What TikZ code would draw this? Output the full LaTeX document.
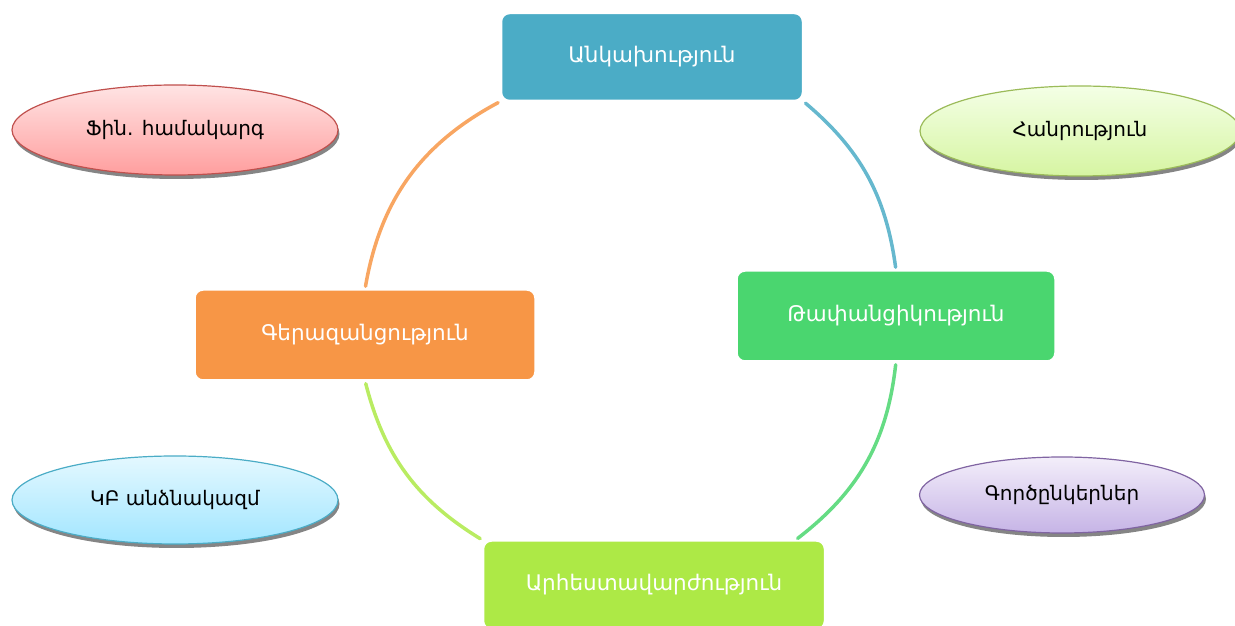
\documentclass[tikz,border=0pt]{standalone}
\usepackage{fontspec}
\setmainfont{DejaVu Sans}
\usetikzlibrary{shapes.geometric,
                shadows}

\definecolor{indepblue}{HTML}{4BACC6}
\definecolor{transgreen}{HTML}{4AD66F}
\definecolor{excorange}{HTML}{F79646}
\definecolor{proflime}{HTML}{ADE946}

\definecolor{finline}{HTML}{C0504D}
\definecolor{fintop}{HTML}{FFE4E4}
\definecolor{finbot}{HTML}{FF9E9E}
\definecolor{publine}{HTML}{9BBB59}
\definecolor{pubtop}{HTML}{F4FFE6}
\definecolor{pubbot}{HTML}{D6F5A2}
\definecolor{staffline}{HTML}{4BACC6}
\definecolor{stafftop}{HTML}{E4F8FF}
\definecolor{staffbot}{HTML}{A2E6FF}
\definecolor{partline}{HTML}{8064A2}
\definecolor{parttop}{HTML}{F3EEFA}
\definecolor{partbot}{HTML}{C6B4E6}

\begin{document}
\begin{tikzpicture}[x=1pt, y=1pt,
    valuebox/.style={rectangle, rounded corners=8pt, fill=#1, draw=white, line width=1.5pt,
                     text=white, inner sep=0pt, font=\fontsize{21.5}{24}\selectfont},
    bubble/.style n args={3}{ellipse, draw=#1, line width=1.2pt, top color=#2, bottom color=#3,
                     inner sep=0pt, font=\fontsize{20}{23}\selectfont,
                     drop shadow={shadow xshift=1.5pt, shadow yshift=-4pt, fill=black!60, opacity=0.8}},
    ring/.style={draw=#1, line width=3.5pt, line cap=round, opacity=0.85, shorten <=3pt, shorten >=3pt}]
    \useasboundingbox (0, 0) rectangle (1235, 626);
    \clip (0, 0) rectangle (1235, 626);

    \node[valuebox=indepblue,  minimum width=301pt, minimum height=87pt] (indep) at (652, 569) {Անկախություն};
    \node[valuebox=transgreen, minimum width=318pt, minimum height=90pt] (trans) at (896, 310) {Թափանցիկություն};
    \node[valuebox=excorange,  minimum width=340pt, minimum height=90pt] (excel) at (365, 291) {Գերազանցություն};
    \node[valuebox=proflime,   minimum width=341pt, minimum height=88pt] (prof)  at (654, 41)  {Արհեստավարժություն};

    \node[bubble={finline}{fintop}{finbot}, minimum width=326pt, minimum height=90pt]
      (finsys) at (175, 496) {Ֆին. համակարգ};
    \node[bubble={publine}{pubtop}{pubbot}, minimum width=320pt, minimum height=90pt]
      (public) at (1080, 495) {Հանրություն};
    \node[bubble={staffline}{stafftop}{staffbot}, minimum width=326pt, minimum height=88pt]
      (staff) at (175, 126) {ԿԲ անձնակազմ};
    \node[bubble={partline}{parttop}{partbot}, minimum width=285pt, minimum height=76pt]
      (partners) at (1062, 131) {Գործընկերներ};

    \draw[ring=indepblue]  (indep.south east) to[bend left=21] (trans.north);
    \draw[ring=transgreen] (trans.south) to[bend left=23] ([xshift=-30pt]prof.north east);
    \draw[ring=proflime]   (prof.north west) to[bend left=22] (excel.south);
    \draw[ring=excorange]  (excel.north) to[bend left=26] (indep.south west);
  \end{tikzpicture}
\end{document}
